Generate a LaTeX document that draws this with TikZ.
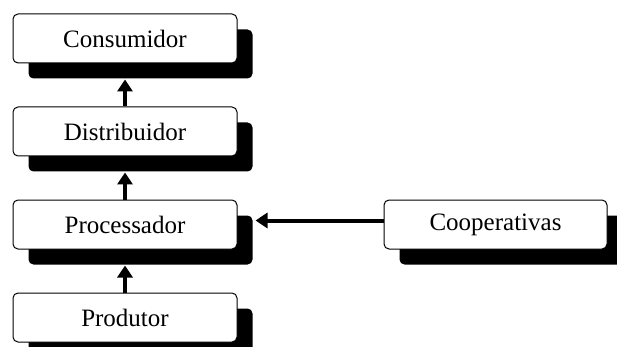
\documentclass[tikz,border=0pt]{standalone}
\usepackage{fontspec}
\setmainfont{Liberation Serif}
\usetikzlibrary{shadows,arrows.meta}
\begin{document}
\begin{tikzpicture}[x=1pt,y=-1pt,
  boxnode/.style={draw=black, line width=1pt, fill=white, rounded corners=5pt,
    minimum width=224pt, minimum height=49pt, inner sep=0pt,
    font=\fontsize{25}{30}\selectfont,
    drop shadow={shadow xshift=15.5pt, shadow yshift=-15.5pt, fill=black, opacity=1}},
  flow/.style={line width=4pt, -{Triangle[width=15pt,length=12pt]}}]
\useasboundingbox (0,0) rectangle (617,347);
\node[boxnode] (cons) at (125,38.5) {Consumidor};
\node[boxnode] (dist) at (125,131.5) {Distribuidor};
\node[boxnode] (proc) at (125,224.5) {Processador};
\node[boxnode] (prod) at (125,317.5) {Produtor};
\node[boxnode, minimum width=223pt] (coop) at (495.5,224.5) {Cooperativas};
\draw[flow] (dist.north) -- ([yshift=-16pt]cons.south);
\draw[flow] (proc.north) -- ([yshift=-16pt]dist.south);
\draw[flow] (prod.north) -- ([yshift=-16pt]proc.south);
\draw[flow] ([yshift=4pt]coop.west) -- ([xshift=18pt,yshift=4pt]proc.east);
\end{tikzpicture}
\end{document}
